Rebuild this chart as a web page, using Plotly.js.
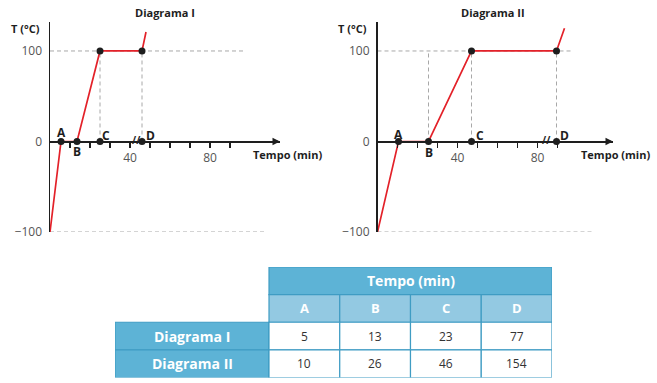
<!DOCTYPE html>
<html>
<head>
<meta charset="utf-8">
<script src="https://cdn.plot.ly/plotly-3.0.1.min.js"></script>
<style>html,body{margin:0;padding:0;background:#fff}#chart{width:657px;height:383px}</style>
</head>
<body>
<div id="chart"></div>
<script>
// ---- data ----
const pointLabels = ['A', 'B', 'C', 'D'];
// curves as drawn (schematic time axis with a break before D)
const timeI = [0, 5.5, 13.5, 25, 46, 48];
const tempI = [-100, 0, 0, 100, 100, 121];
const timeII = [0, 10.5, 25.5, 47, 89.5, 93.5];
const tempII = [-100, 0, 0, 100, 100, 125];
const breakI = 43.3;
const breakII = 84.3;
// table
const tableHeader = 'Tempo (min)';
const rowNames = ['Diagrama I', 'Diagrama II'];
const tableI = [5, 13, 23, 77];
const tableII = [10, 26, 46, 154];
const xTickVals = [10, 20, 30, 40, 50, 60, 70, 80, 90];
const xTickText = ['', '', '', '40', '', '', '', '80', ''];
const yTickVals = [-100, 0, 100];
const yTickText = ['\u2212100', '0', '100'];

// ---- styles ----
const W = 657, H = 383;
const RED = '#e32129', INK = '#1e1e1e';
const BLUE = '#5db3d6', LIGHT = '#93c9e2', BORDER = '#3f9cc3';
const FONT = 'Open Sans, sans-serif';
const px = v => v / W, py = v => 1 - v / H;

function curveTraces(t, T, xa, ya) {
  const pts = t.slice(1, 5);
  return [
    {type: 'scatter', mode: 'lines', x: t, y: T, xaxis: xa, yaxis: ya,
     line: {color: RED, width: 1.7}, hoverinfo: 'skip', cliponaxis: false},
    {type: 'scatter', mode: 'markers',
     x: pts.concat([t[3], t[4]]), y: [0, 0, 0, 0, T[3], T[4]],
     xaxis: xa, yaxis: ya, marker: {color: INK, size: 7}, cliponaxis: false, hoverinfo: 'skip'}
  ];
}

const traces = [
  ...curveTraces(timeI, tempI, 'x', 'y'),
  ...curveTraces(timeII, tempII, 'x2', 'y2')
];

function xAxis(domain, range) {
  return {domain: domain, range: range, anchor: 'free', position: py(141.3),
    showline: true, linecolor: INK, linewidth: 1.5, showgrid: false, zeroline: false,
    ticks: 'outside', ticklen: 5, tickwidth: 1.2, tickcolor: INK,
    tickvals: xTickVals, ticktext: xTickText,
    tickfont: {family: FONT, size: 12, color: '#555'}, fixedrange: true};
}
function yAxis(anchor) {
  return {domain: [py(232), py(22)], range: [-100, 132], anchor: anchor,
    showline: true, linecolor: INK, linewidth: 1.5, showgrid: false, zeroline: false,
    ticks: '', tickvals: yTickVals, ticktext: yTickText, ticklabelstandoff: 4,
    tickfont: {family: FONT, size: 12, color: '#555'}, fixedrange: true};
}

const shapes = [];
function dashes(t, xr, yr, vertIdx) {
  const d = {color: '#a8a8a8', width: 1, dash: '4px,3px'};
  shapes.push({type: 'line', xref: xr, yref: yr, x0: 0, x1: 97.5, y0: 100, y1: 100, line: d, layer: 'below'});
  shapes.push({type: 'line', xref: xr, yref: yr, x0: 0, x1: 107.5, y0: -100, y1: -100, line: d, layer: 'below'});
  vertIdx.forEach(i => shapes.push({type: 'line', xref: xr, yref: yr, x0: t[i], x1: t[i], y0: 0, y1: 100, line: d, layer: 'below'}));
}
dashes(timeI, 'x', 'y', [3, 4]);
dashes(timeII, 'x2', 'y2', [2, 3, 4]);

const ann = [];
const txt = (s, size, color, b) => ({text: b === false ? String(s) : '<b>' + s + '</b>',
  font: {family: FONT, size: size || 11, color: color || INK}, showarrow: false, xanchor: 'center', yanchor: 'middle'});
function diagramAnn(t, xr, yr, xEnd, brk, offs) {
  ann.push({x: xEnd, y: 0, xref: xr, yref: yr, ax: -7, ay: 0, text: '', showarrow: true,
            arrowhead: 2, arrowsize: 1, arrowwidth: 1.5, arrowcolor: INK, standoff: 0});
  ann.push({x: 0, y: 134, xref: xr, yref: yr, ax: 0, ay: 7, text: '', showarrow: true,
            arrowhead: 2, arrowsize: 1, arrowwidth: 1.5, arrowcolor: INK, standoff: 0});
  ann.push(Object.assign(txt('//', 10), {x: brk, y: 0, xref: xr, yref: yr, yshift: 1}));
  pointLabels.forEach((L, i) => {
    ann.push(Object.assign(txt(L, 12), {x: t[i + 1], y: 0, xref: xr, yref: yr, xshift: offs[i][0], yshift: offs[i][1]}));
  });
}
diagramAnn(timeI, 'x', 'y', 115, breakI, [[0, 9], [0, -10], [6, 6], [8, 6]]);
diagramAnn(timeII, 'x2', 'y2', 117.75, breakII, [[0, 7], [0, -11], [8, 6], [8, 6]]);

const paperTxt = (s, x, y, size) => Object.assign(txt(s, size || 11), {x: px(x), y: py(y), xref: 'paper', yref: 'paper'});
ann.push(paperTxt('Diagrama I', 165, 12));
ann.push(paperTxt('Diagrama II', 493, 12));
ann.push(paperTxt('T (°C)', 25, 28));
ann.push(paperTxt('T (°C)', 352, 28));
ann.push(paperTxt('Tempo (min)', 287, 154));
ann.push(paperTxt('Tempo (min)', 615, 154));

// ---- table on its own hidden axes: data columns span [i, i+1], label column [-LW, 0]; rows: 3 header, 2 letters, 1 and 0 data rows
const LW = 154 / 70.75;
const cell = (x0, x1, y0, y1, fill) => shapes.push({type: 'rect', xref: 'x3', yref: 'y3', x0: x0, x1: x1, y0: y0, y1: y1,
  fillcolor: fill, line: {color: BORDER, width: 1.2}, layer: 'above'});
cell(0, pointLabels.length, 3, 4, BLUE);
ann.push(Object.assign(txt(tableHeader, 14, 'white'), {x: pointLabels.length / 2, y: 3.5, xref: 'x3', yref: 'y3'}));
pointLabels.forEach((L, i) => {
  cell(i, i + 1, 2, 3, LIGHT);
  ann.push(Object.assign(txt(L, 13, 'white'), {x: i + 0.5, y: 2.5, xref: 'x3', yref: 'y3'}));
});
[tableI, tableII].forEach((row, r) => {
  const yb = 1 - r;
  cell(-LW, 0, yb, yb + 1, BLUE);
  ann.push(Object.assign(txt(rowNames[r], 14, 'white'), {x: -LW / 2, y: yb + 0.5, xref: 'x3', yref: 'y3'}));
  row.forEach((v, i) => {
    cell(i, i + 1, yb, yb + 1, 'white');
    ann.push(Object.assign(txt(v, 12, '#333', false), {x: i + 0.5, y: yb + 0.5, xref: 'x3', yref: 'y3'}));
  });
});

const hidden = {visible: false, fixedrange: true, showgrid: false, zeroline: false};
const layout = {
  width: W, height: H, margin: {l: 0, r: 0, t: 0, b: 0},
  paper_bgcolor: 'white', plot_bgcolor: 'rgba(0,0,0,0)', showlegend: false,
  font: {family: FONT},
  xaxis: xAxis([px(50), px(280)], [0, 115]),
  yaxis: yAxis('x'),
  xaxis2: xAxis([px(377.5), px(613)], [0, 117.75]),
  yaxis2: yAxis('x2'),
  xaxis3: Object.assign({domain: [px(115), px(552)], range: [-LW, 4], anchor: 'y3'}, hidden),
  yaxis3: Object.assign({domain: [py(377.5), py(267)], range: [0, 4], anchor: 'x3'}, hidden),
  shapes: shapes, annotations: ann
};

Plotly.newPlot('chart', traces, layout, {displayModeBar: false, staticPlot: true});
</script>
</body>
</html>
